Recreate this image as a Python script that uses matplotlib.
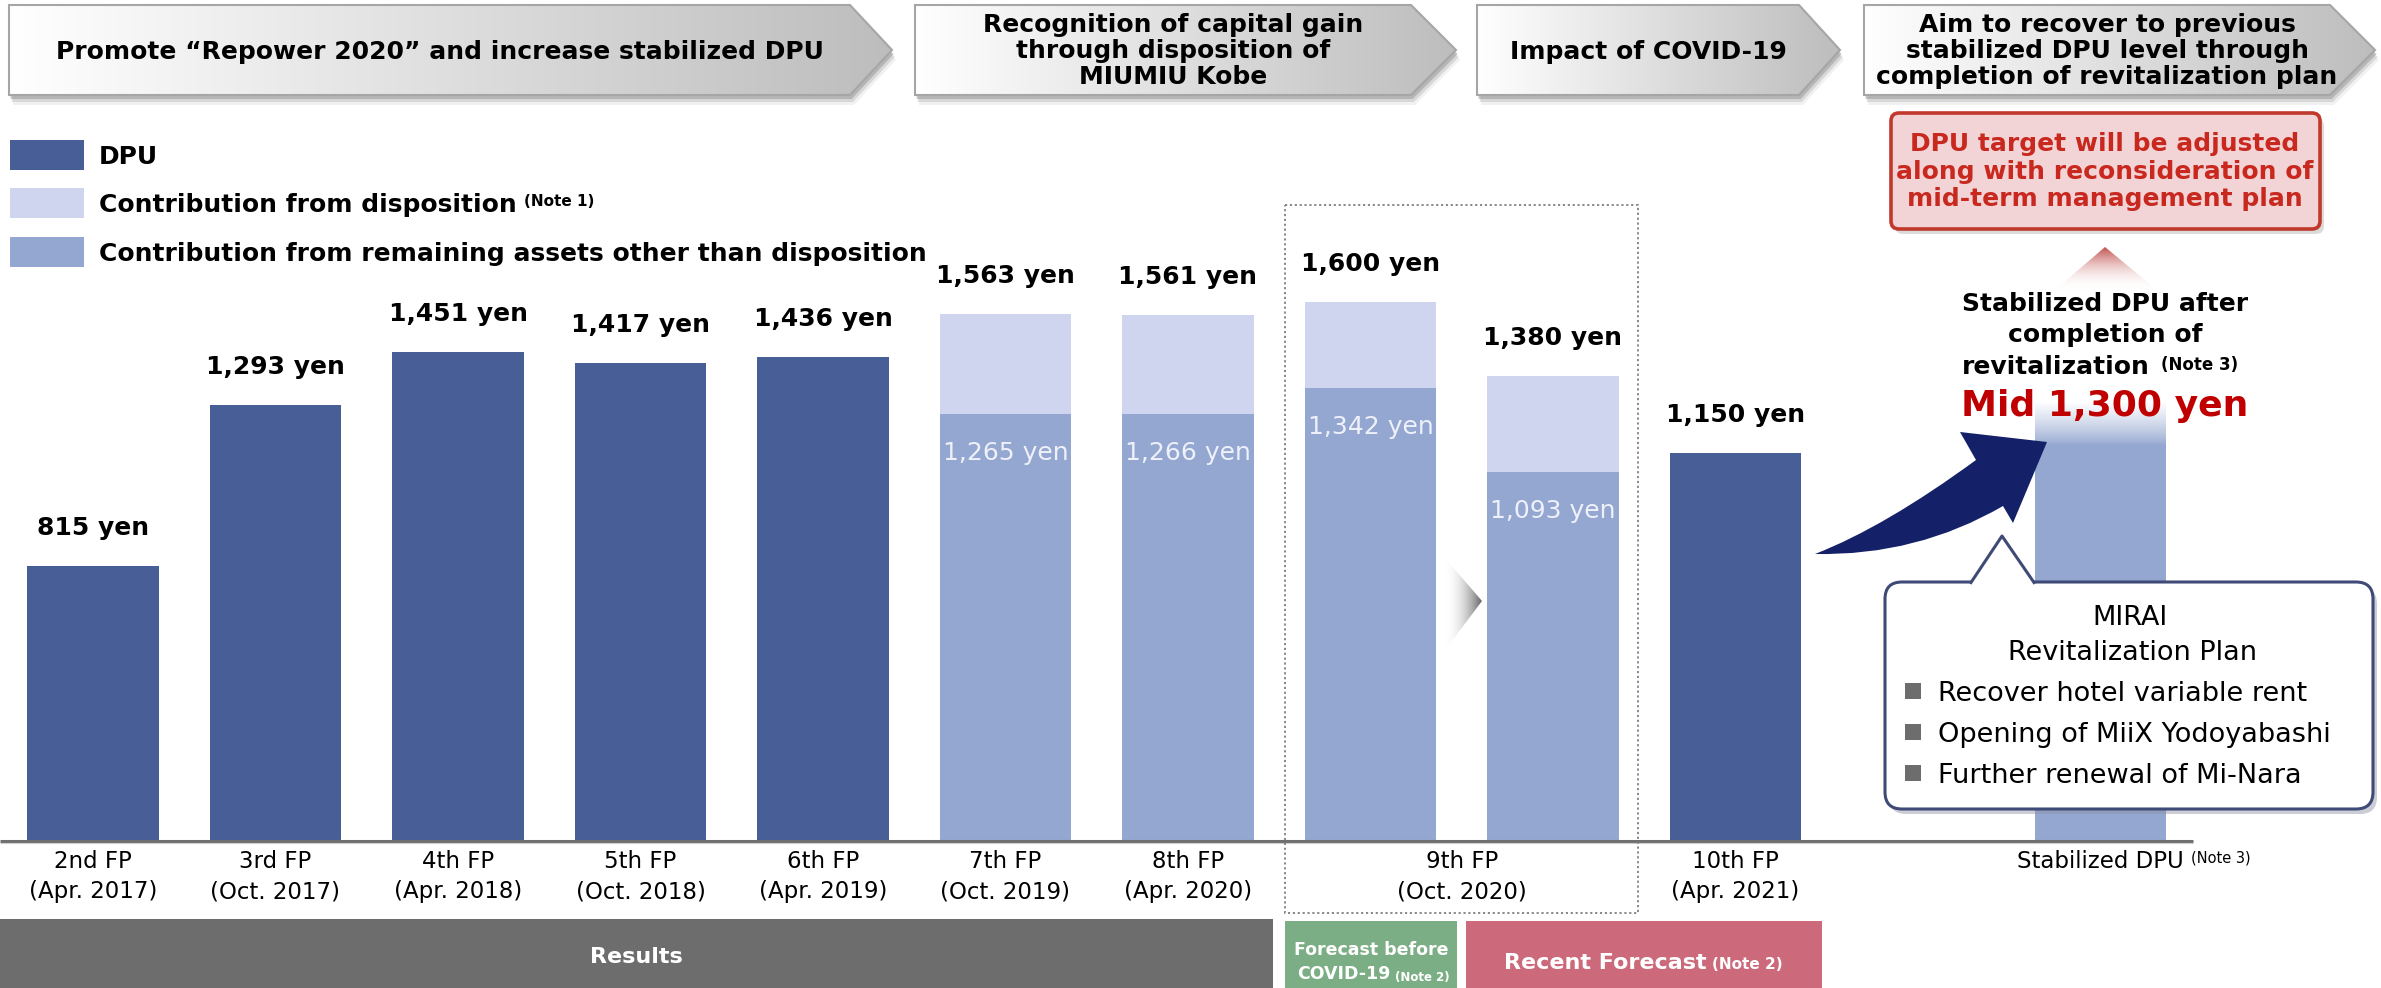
import numpy as np
import matplotlib.pyplot as plt
import matplotlib.colors as mcolors
from matplotlib.patches import Polygon, Rectangle, FancyBboxPatch, PathPatch
from matplotlib.path import Path

plt.rcParams['font.family'] = ['DejaVu Sans']

# fiscal periods shown on the x axis
fp_names = ["2nd FP", "3rd FP", "4th FP", "5th FP", "6th FP", "7th FP",
            "8th FP", "9th FP", "10th FP"]
fp_dates = ["(Apr. 2017)", "(Oct. 2017)", "(Apr. 2018)", "(Oct. 2018)",
            "(Apr. 2019)", "(Oct. 2019)", "(Apr. 2020)", "(Oct. 2020)",
            "(Apr. 2021)"]
fp_label_pos = [0, 1, 2, 3, 4, 5, 6, 7.5, 9]

# DPU only (yen)
dpu_pos = [0, 1, 2, 3, 4, 9]
dpu_val = [815, 1293, 1451, 1417, 1436, 1150]

# DPU split into remaining assets + disposition (yen)
stack_pos = [5, 6, 7, 8]
stack_total = [1563, 1561, 1600, 1380]
stack_remaining = [1265, 1266, 1342, 1093]

# stabilized DPU after revitalization (yen)
stab_pos = 11
stab_val = 1300

C_DPU = '#475f96'
C_DISP = '#d0d5ef'
C_REM = '#94a7d0'
NAVY = '#142068'
EDGE = '#3f4b76'
BAR_W = 0.718

W, H = 2381, 988
fig = plt.figure(figsize=(W / 100, H / 100), dpi=100)
fig.patch.set_facecolor('white')

# bar axes in yen, spanning the whole figure
ax = fig.add_axes([0, 0, 1, 1])
ax.axis('off')
# overlay in pixel coordinates for the slide decorations
px = fig.add_axes([0, 0, 1, 1])
px.axis('off')
px.patch.set_alpha(0)


def put(axis, x, y, s, fs, weight='normal', color='black', ha='center', **kw):
    # y is the visual centre of the capitals (pixel axes, y grows downward)
    return axis.text(x, y + 0.506 * fs, s, fontsize=fs, fontweight=weight,
                     color=color, ha=ha, va='baseline', **kw)


def note(axis, txt, s, fs, dx=4, dy=-1, weight='bold', color='black'):
    return axis.annotate(s, xy=(1, 1), xycoords=txt, xytext=(dx, dy),
                         textcoords='offset points', ha='left', va='top',
                         fontsize=fs, fontweight=weight, color=color)


def gradient_patch(axis, verts, c0, c1, horizontal=True, ec='none', lw=0, z=2):
    patch = Polygon(verts, closed=True, fc='none', ec=ec, lw=lw, zorder=z)
    axis.add_patch(patch)
    xs, ys = zip(*verts)
    t = np.linspace(0, 1, 256)[:, None]
    a = np.array(mcolors.to_rgba(c0))
    b = np.array(mcolors.to_rgba(c1))
    grad = a + (b - a) * t
    img = grad[None, :, :] if horizontal else grad[:, None, :]
    im = axis.imshow(img, extent=(min(xs), max(xs), max(ys), min(ys)),
                     origin='upper', aspect='auto', interpolation='bilinear',
                     zorder=z - 0.1)
    im.set_clip_path(patch)
    return patch


# ---- bars ----
ax.bar(dpu_pos, dpu_val, width=BAR_W, color=C_DPU, zorder=2)
disp = np.array(stack_total) - np.array(stack_remaining)
ax.bar(stack_pos, stack_remaining, width=BAR_W, color=C_REM, zorder=2)
ax.bar(stack_pos, disp, width=BAR_W, bottom=stack_remaining, color=C_DISP, zorder=2)
ax.bar(stab_pos, stab_val, width=BAR_W, color=C_REM, zorder=2)

# white fade over the top of the stabilized bar
fade = np.ones((128, 1, 4))
fade[:, 0, 3] = np.linspace(1, 0, 128) ** 0.8
ax.imshow(fade, extent=(stab_pos - BAR_W / 2, stab_pos + BAR_W / 2,
                        stab_val - 125, stab_val),
          origin='upper', aspect='auto', interpolation='bilinear', zorder=3)

for p, v in zip(dpu_pos + stack_pos, dpu_val + stack_total):
    ax.annotate(f"{v:,} yen", (p, v), xytext=(0, 22.3), textcoords='offset points',
                ha='center', va='baseline', fontsize=18, fontweight='bold')
for p, r in zip(stack_pos, stack_remaining):
    ax.annotate(f"{r:,} yen", (p, r), xytext=(0, -33), textcoords='offset points',
                ha='center', va='baseline', fontsize=18, color='#eef0fa', zorder=4)

ax.set_xlim(-0.5096, 12.537)
ax.set_ylim(-438, 2495.5)

# axis line
px.plot([0, 2193], [840.5, 840.5], color='#6f6f6f', lw=2.2, solid_capstyle='butt', zorder=3)
px.plot([0, 2193], [843, 843], color='#cfcfcf', lw=0.8, solid_capstyle='butt', zorder=3)

# x labels, in bar units converted to pixels
x0, dx_slot = 93, 182.5
for name, date, p in zip(fp_names, fp_dates, fp_label_pos):
    put(px, x0 + p * dx_slot, 860, name, 16.5)
    put(px, x0 + p * dx_slot, 890, date, 16.5)
t = put(px, x0 + stab_pos * dx_slot, 860, "Stabilized DPU", 16.5)
note(px, t, "(Note 3)", 10.5, dx=5, dy=0, weight='normal')

# ---- top chevrons ----
chevrons = [
    (9, 850, 892, ["Promote “Repower 2020” and increase stabilized DPU"], [50]),
    (915, 1411, 1456, ["Recognition of capital gain", "through disposition of",
                       "MIUMIU Kobe"], [23, 49, 75]),
    (1477, 1799, 1840, ["Impact of COVID-19"], [50]),
    (1864, 2330, 2375, ["Aim to recover to previous", "stabilized DPU level through",
                        "completion of revitalization plan"], [23, 49, 75]),
]
ctop, cbot = 5, 95
for left, right, tip, lines, ys in chevrons:
    shape = [(left, ctop), (right, ctop), (tip, (ctop + cbot) / 2), (right, cbot), (left, cbot)]
    for off, al in [(10, 0.12), (7, 0.25), (4, 0.45)]:
        sh = [(x + off * 0.4, y + off) for x, y in shape]
        px.add_patch(Polygon(sh, closed=True, fc='#8c8c8c', ec='none', alpha=al, zorder=1))
    gradient_patch(px, shape, '#ffffff', '#bdbdbd', ec='#a6a6a6', lw=1.5, z=2)
    cx = (left + right) / 2 + 10
    for s, y in zip(lines, ys):
        put(px, cx, y, s, 18, weight='bold', zorder=3)

# ---- legend ----
legend_items = [(C_DPU, "DPU", 155), (C_DISP, "Contribution from disposition", 203),
                (C_REM, "Contribution from remaining assets other than disposition", 252)]
for col, lab, y in legend_items:
    px.add_patch(Rectangle((10, y - 15), 74, 30, fc=col, ec='none'))
    t = put(px, 99, y, lab, 18, weight='bold', ha='left')
    if lab == "Contribution from disposition":
        note(px, t, "(Note 1)", 11, dx=5, dy=-1)

# ---- red target box ----
px.add_patch(FancyBboxPatch((1895, 118), 429, 116, boxstyle='round,pad=0,rounding_size=8',
                            fc='#9a9a9a', ec='none', alpha=0.35, zorder=3))
px.add_patch(FancyBboxPatch((1891, 113), 429, 116, boxstyle='round,pad=0,rounding_size=8',
                            fc='#f2d4d7', ec='#c0392b', lw=2.6, zorder=4))
for s, y in zip(["DPU target will be adjusted", "along with reconsideration of",
                 "mid-term management plan"], [142, 170, 197]):
    put(px, 2105, y, s, 18, weight='bold', color='#c8281e', zorder=5)

# red upward triangle
gradient_patch(px, [(2055, 290), (2105, 247), (2157, 290)], '#c0504d', (1, 1, 1, 0),
               horizontal=False, z=3)

# stabilized DPU caption
put(px, 2105, 302, "Stabilized DPU after", 18, weight='bold', zorder=6)
put(px, 2105, 333, "completion of", 18, weight='bold', zorder=6)
t = put(px, 2150, 365, "revitalization", 18, weight='bold', ha='right', zorder=6)
note(px, t, "(Note 3)", 12, dx=8, dy=-1)
put(px, 2105, 403, "Mid 1,300 yen", 26, weight='bold', color='#c00000', zorder=6)

# curved navy arrow
arrow_verts = [(1815, 554), (1884.5, 527), (1976, 460), (1960, 432), (2047, 442),
               (2013, 523), (2003, 506), (1917, 556), (1815, 554)]
arrow_codes = [Path.MOVETO, Path.CURVE3, Path.CURVE3, Path.LINETO, Path.LINETO,
               Path.LINETO, Path.LINETO, Path.CURVE3, Path.CURVE3]
px.add_patch(PathPatch(Path(arrow_verts, arrow_codes), fc=NAVY, ec='none', zorder=6))

# grey arrow between the two 9th FP bars
gradient_patch(px, [(1445, 558), (1482, 601), (1445, 650)], (1, 1, 1, 0), '#666666', z=3)

# dotted frame around 9th FP
px.add_patch(Rectangle((1285, 205), 353, 708, fill=False, ec='#7f7f7f', lw=1.3,
                       ls=(0, (1.2, 1.5)), zorder=3))

# ---- revitalization plan callout ----
px.add_patch(FancyBboxPatch((1889, 587), 488, 227, boxstyle='round,pad=0,rounding_size=17',
                            fc='#8a8fa6', ec='none', alpha=0.45, zorder=6))
px.add_patch(FancyBboxPatch((1885, 582), 488, 227, boxstyle='round,pad=0,rounding_size=17',
                            fc='white', ec=EDGE, lw=2.2, zorder=7))
px.add_patch(Polygon([(1970, 585), (2002, 537), (2035, 585)], closed=True,
                     fc='white', ec='none', zorder=7.1))
px.plot([1971, 2002, 2034], [582.5, 536, 582.5], color=EDGE, lw=2.2, zorder=7.2)
put(px, 2130, 615, "MIRAI", 19.5, zorder=8)
put(px, 2133, 650, "Revitalization Plan", 19.5, zorder=8)
for s, y in zip(["Recover hotel variable rent", "Opening of MiiX Yodoyabashi",
                 "Further renewal of Mi-Nara"], [691, 732, 773]):
    px.add_patch(Rectangle((1905, y - 8), 16, 16, fc='#6d6d6d', ec='none', zorder=8))
    put(px, 1938, y, s, 19.5, ha='left', zorder=8)

# ---- bottom bands ----
px.add_patch(Rectangle((0, 919), 1273, 69, fc='#6d6d6d', ec='none'))
put(px, 636, 955, "Results", 16, weight='bold', color='white')
px.add_patch(Rectangle((1285, 921), 172, 67, fc='#7bae84', ec='none'))
put(px, 1371, 949, "Forecast before", 12.5, weight='bold', color='white')
t = put(px, 1297, 973, "COVID-19", 12.5, weight='bold', color='white', ha='left')
note(px, t, "(Note 2)", 8.5, dx=3, dy=-4, color='white')
px.add_patch(Rectangle((1466, 921), 356, 67, fc='#cc6a7b', ec='none'))
t = put(px, 1504, 961, "Recent Forecast", 16, weight='bold', color='white', ha='left')
note(px, t, "(Note 2)", 11, dx=4, dy=-3, color='white')

px.set_xlim(0, W)
px.set_ylim(H, 0)

fig.savefig('out.png', dpi=100)
